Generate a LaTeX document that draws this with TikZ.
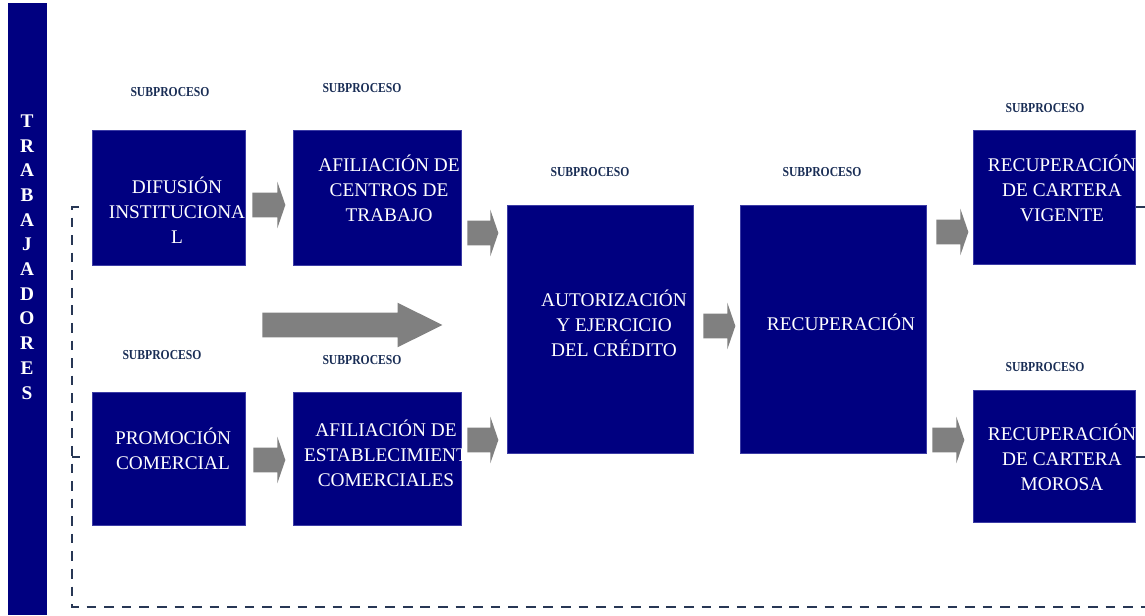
\documentclass[tikz,border=0pt]{standalone}
\usepackage{fontspec}
\setmainfont{Liberation Serif}
\usetikzlibrary{calc,positioning,shapes.arrows}

\definecolor{navy}{RGB}{0,0,128}
\definecolor{navyedge}{RGB}{60,60,165}
\definecolor{subcol}{RGB}{25,45,85}
\definecolor{arrowgray}{RGB}{128,128,128}
\definecolor{dashcol}{RGB}{40,55,85}

\begin{document}
\begin{tikzpicture}[x=0.02cm,y=-0.02cm,
  proc/.style={fill=navy,draw=navyedge,line width=0.4pt,inner sep=0pt},
  ptext/.style={text=white,align=center,inner sep=0pt,font=\fontsize{11}{14.2}\selectfont},
  subtit/.style={text=subcol,inner sep=0pt,font=\fontsize{7.8}{9}\selectfont\bfseries,xscale=0.85},
  flecha/.style={single arrow,fill=arrowgray,draw=none,inner sep=0pt,text height=0.48cm,text depth=0pt,
    single arrow head extend=0.22cm,single arrow tip angle=142,anchor=tail,minimum height=#1},
  retorno/.style={draw=dashcol,line width=1.6pt,dash pattern=on 5.5pt off 4.5pt}]
  \useasboundingbox[fill=white] (0,0) rectangle (1145,615);

  %%%% dashed return line
  \coordinate (d0) at (79,207);
  \coordinate (d1) at (72,207);
  \coordinate (d2) at (72,607);
  \coordinate (d3) at (1145,607);
  \draw[retorno] (d0) -- (d1) -- (d2) -- (d3);
  \draw[retorno] (72,457) -- (80,457);
  \draw[retorno] (1136,207) -- (1145,207);
  \draw[retorno] (1136,457) -- (1145,457);

  %%%% workers bar
  \node[proc,draw=none,minimum width=0.78cm,minimum height=12.24cm,anchor=north west] (barra) at (8,3) {};
  \node[text=white,align=center,inner sep=0pt,font=\fontsize{11}{14.06}\selectfont\bfseries] (trab) at (27,257)
    {T\\R\\A\\B\\A\\J\\A\\D\\O\\R\\E\\S};

  %%%% boxes
  \node[proc,minimum width=3.06cm,minimum height=2.7cm] (dif) at (168.5,197.5) {};
  \node[proc,minimum width=3.36cm,minimum height=2.7cm,right of=dif,node distance=4.17cm] (afc) {};
  \node[proc,minimum width=3.06cm,minimum height=2.66cm,below of=dif,node distance=5.22cm] (pro) {};
  \node[proc,minimum width=3.36cm,minimum height=2.66cm,right of=pro,node distance=4.17cm] (afe) {};
  \node[proc,minimum width=3.72cm,minimum height=4.96cm] (aut) at (600,329) {};
  \node[proc,minimum width=3.72cm,minimum height=4.96cm,right of=aut,node distance=4.66cm] (rec) {};
  \node[proc,minimum width=3.24cm,minimum height=2.68cm] (vig) at (1054.5,197) {};
  \node[proc,minimum width=3.24cm,minimum height=2.64cm,below of=vig,node distance=5.18cm] (mor) {};

  \node[ptext] (t_dif) at (177,210) {DIFUSIÓN\\INSTITUCIONA\\L};
  \node[ptext] (t_afc) at (389,188) {AFILIACIÓN DE\\CENTROS DE\\TRABAJO};
  \node[ptext] (t_pro) at (173,449) {PROMOCIÓN\\COMERCIAL};
  \node[ptext] (t_afe) at (386,453) {AFILIACIÓN DE\\ESTABLECIMIENT\\COMERCIALES};
  \node[ptext] (t_aut) at (614,323) {AUTORIZACIÓN\\Y EJERCICIO\\DEL CRÉDITO};
  \node[ptext] (t_rec) at (841,322) {RECUPERACIÓN};
  \node[ptext] (t_vig) at (1062,188) {RECUPERACIÓN\\DE CARTERA\\VIGENTE};
  \node[ptext] (t_mor) at (1062,457) {RECUPERACIÓN\\DE CARTERA\\MOROSA};

  %%%% subprocess titles
  \node[subtit] (s_dif) at (170,92) {SUBPROCESO};
  \node[subtit] (s_afc) at (362,88) {SUBPROCESO};
  \node[subtit] (s_pro) at (162,355) {SUBPROCESO};
  \node[subtit] (s_afe) at (362,360) {SUBPROCESO};
  \node[subtit] (s_aut) at (590,172) {SUBPROCESO};
  \node[subtit] (s_rec) at (822,172) {SUBPROCESO};
  \node[subtit] (s_vig) at (1045,108) {SUBPROCESO};
  \node[subtit] (s_mor) at (1045,367) {SUBPROCESO};

  %%%% block arrows
  \node[flecha=0.66cm] (a_dif) at (252,205) {};
  \node[flecha=0.62cm] (a_afc) at (467,233) {};
  \node[flecha=0.64cm] (a_pro) at (253,460) {};
  \node[flecha=0.62cm] (a_afe) at (467,440) {};
  \node[flecha=3.6cm,single arrow head extend=0.2cm,single arrow tip angle=53] (a_big) at (262,325) {};
  \node[flecha=0.64cm] (a_aut) at (703,326) {};
  \node[flecha=0.64cm] (a_vig) at (936,232) {};
  \node[flecha=0.64cm] (a_mor) at (932,440) {};

\end{tikzpicture}
\end{document}
